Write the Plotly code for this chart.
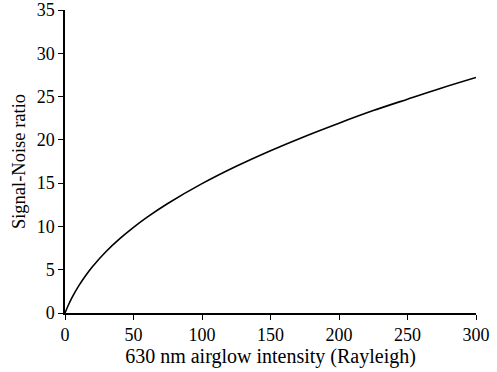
import plotly.graph_objects as go

intensity = [0, 2, 5, 10, 15, 20, 30, 40, 50, 60, 75, 100, 125, 150, 175, 200, 225, 250, 275, 300]
snr = [0, 0.75, 1.74, 3.13, 4.31, 5.34, 7.10, 8.58, 9.89, 11.07, 12.65, 14.94, 16.95, 18.75, 20.40, 21.93, 23.38, 24.70, 25.99, 27.2]

x_ticks = [0, 50, 100, 150, 200, 250, 300]
y_ticks = [0, 5, 10, 15, 20, 25, 30, 35]

font = dict(family="Liberation Serif", size=18, color="black")
xtitle_font = dict(family="Liberation Serif", size=20, color="black")
ytitle_font = dict(family="Liberation Serif", size=18.5, color="black")

fig = go.Figure(go.Scatter(x=intensity, y=snr, mode="lines", line=dict(color="black", width=1.6, shape="spline")))

fig.update_layout(
    width=497, height=372,
    margin=dict(l=65, r=21, t=10, b=59),
    paper_bgcolor="white", plot_bgcolor="white",
    font=font, showlegend=False,
)
fig.update_xaxes(range=[0, 300], tickvals=x_ticks, ticks="outside", ticklen=5, tickcolor="black",
                 showline=True, linecolor="black", linewidth=1.5, showgrid=False, zeroline=False,
                 automargin=False,
                 title=dict(text="630 nm airglow intensity (Rayleigh)", standoff=1, font=xtitle_font), tickfont=font)
fig.update_yaxes(range=[0, 35], tickvals=y_ticks, ticks="outside", ticklen=5, tickcolor="black",
                 showline=True, linecolor="black", linewidth=1.5, showgrid=False, zeroline=False,
                 automargin=False,
                 title=dict(text="Signal-Noise ratio", standoff=6, font=ytitle_font), tickfont=font)

fig.write_html("out.html", config={"displayModeBar": False},
               post_script="document.body.style.margin='0';")
